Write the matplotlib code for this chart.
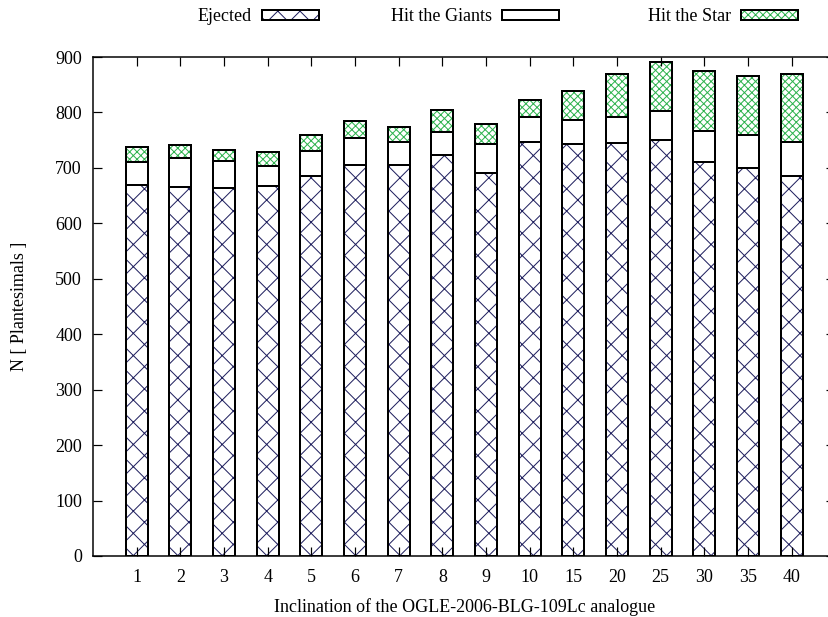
import matplotlib
matplotlib.use("Agg")
import matplotlib.pyplot as plt
import numpy as np
from matplotlib.patches import Patch

categories = ["1", "2", "3", "4", "5", "6", "7", "8", "9", "10", "15", "20", "25", "30", "35", "40"]
ejected = [669, 665, 664, 667, 685, 705, 705, 724, 690, 747, 743, 745, 751, 711, 699, 685]
hit_giants = [42, 53, 48, 37, 46, 49, 41, 41, 53, 44, 43, 47, 51, 56, 60, 62]
hit_star = [27, 24, 20, 25, 29, 30, 28, 39, 37, 31, 53, 77, 89, 108, 106, 122]
yticks = [0, 100, 200, 300, 400, 500, 600, 700, 800, 900]
labels = ["Ejected", "Hit the Giants", "Hit the Star"]

DPI = 200
PX = 72.0 / DPI  # points per pixel

plt.rcParams['font.family'] = ['Liberation Serif', 'DejaVu Serif']
plt.rcParams['hatch.linewidth'] = 1.0 * PX

blue = '#1f1f5e'
green = '#2fb34f'
hatch_ej = 'xxx'
hatch_st = 'xxxxxxxxx'

fig = plt.figure(figsize=(829 / DPI, 617 / DPI), dpi=DPI)
ax = fig.add_axes([93 / 829, 1 - 556 / 617, 742.3 / 829, (556 - 57) / 617])

x = np.arange(len(categories))
w = 0.5
ej = np.array(ejected)
hg = np.array(hit_giants)
hs = np.array(hit_star)

# hatched fills
ax.bar(x, ej, w, color='white', edgecolor=blue, hatch=hatch_ej, linewidth=0)
ax.bar(x, hg, w, bottom=ej, color='white', edgecolor='black', linewidth=0)
ax.bar(x, hs, w, bottom=ej + hg, color='white', edgecolor=green, hatch=hatch_st, linewidth=0)
# outlines
for bottom, h in ((0, ej), (ej, hg), (ej + hg, hs)):
    ax.bar(x, h, w, bottom=bottom, fill=False, edgecolor='black', linewidth=2.0 * PX)

ax.set_xlim(-1, 16)
ax.set_ylim(0, 900)
ax.set_yticks(yticks)
ax.set_xticks(x)
ax.set_xticklabels(categories)

fs = 18 * PX
ax.tick_params(axis='both', direction='in', top=True, right=True, length=9 * PX,
               width=1.2 * PX, labelsize=fs, color='black')
ax.tick_params(axis='x', pad=13 * PX)
ax.tick_params(axis='y', pad=11 * PX)
for s in ax.spines.values():
    s.set_linewidth(1.5 * PX)

ax.set_xlabel("Inclination of the OGLE-2006-BLG-109Lc analogue", fontsize=fs, labelpad=12 * PX)
ax.set_ylabel("N [ Plantesimals ]", fontsize=fs, labelpad=27 * PX)

fills = [
    Patch(facecolor='white', edgecolor=blue, hatch=hatch_ej, linewidth=0),
    Patch(facecolor='white', edgecolor='black', linewidth=0),
    Patch(facecolor='white', edgecolor=green, hatch=hatch_st, linewidth=0),
]
right_edges = [319, 559, 798]
for fill, lab, xr in zip(fills, labels, right_edges):
    outline = Patch(fill=False, edgecolor='black', linewidth=2.0 * PX)
    fig.legend([(fill, outline)], [lab],
               loc='center right', bbox_to_anchor=(xr / 829, 1 - 16.7 / 617),
               frameon=False, markerfirst=False, fontsize=fs,
               handlelength=3.17, handleheight=0.44, handletextpad=0.55,
               borderpad=0, borderaxespad=0)

fig.savefig("out.png", dpi=DPI)
